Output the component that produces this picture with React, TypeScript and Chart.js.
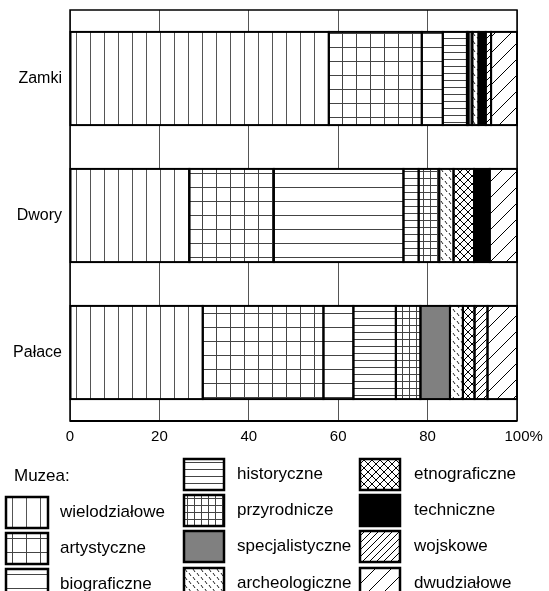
import React, { useEffect, useRef } from "react";
import { Chart, registerables } from "chart.js";

Chart.register(...registerables);

// ---------- data ----------
const categories = ["Zamki", "Dwory", "Pałace"];
const xTickValues = [0, 20, 40, 60, 80, 100];

const wielodzialowe = [57.9, 26.7, 29.7];
const artystyczne = [20.8, 18.9, 27.0];
const biograficzne = [4.7, 29.0, 6.7];
const historyczne = [5.4, 3.4, 9.5];
const przyrodnicze = [0.3, 4.6, 5.5];
const specjalistyczne = [0.9, 0, 6.6];
const archeologiczne = [1.4, 3.2, 2.9];
const etnograficzne = [0, 4.6, 2.6];
const techniczne = [1.6, 3.5, 0];
const wojskowe = [1.2, 0, 2.9];
const dwudzialowe = [5.8, 6.1, 6.6];

const seriesNames = [
  "wielodziałowe",
  "artystyczne",
  "biograficzne",
  "historyczne",
  "przyrodnicze",
  "specjalistyczne",
  "archeologiczne",
  "etnograficzne",
  "techniczne",
  "wojskowe",
  "dwudziałowe",
];
const seriesValues = [
  wielodzialowe,
  artystyczne,
  biograficzne,
  historyczne,
  przyrodnicze,
  specjalistyczne,
  archeologiczne,
  etnograficzne,
  techniczne,
  wojskowe,
  dwudzialowe,
];
const seriesKinds = [
  "vlines",
  "grid14",
  "hlines14",
  "hlines7",
  "grid7",
  "gray",
  "dashes",
  "cross",
  "black",
  "diag7",
  "diag16",
];

const legendTitle = "Muzea:";

// ---------- patterns ----------
const LINE = "#444";

function makeTile(w: number, h: number, draw: (c: CanvasRenderingContext2D) => void) {
  const cv = document.createElement("canvas");
  cv.width = w;
  cv.height = h;
  const c = cv.getContext("2d")!;
  c.fillStyle = "#fff";
  c.fillRect(0, 0, w, h);
  draw(c);
  return c.createPattern(cv, "repeat")!;
}

function makeFill(kind: string, ox = 0, oy = 0): CanvasPattern | string {
  let p: CanvasPattern | null = null;
  let shift = true;
  switch (kind) {
    case "gray":
      return "#808080";
    case "black":
      return "#000";
    case "vlines":
      p = makeTile(14, 14, (c) => {
        c.fillStyle = "#555";
        c.fillRect(6, 0, 1, 14);
      });
      break;
    case "grid14":
      p = makeTile(14, 14, (c) => {
        c.fillStyle = LINE;
        c.fillRect(6, 0, 1, 14);
        c.fillRect(0, 5, 14, 1);
      });
      break;
    case "grid7":
      p = makeTile(7, 7, (c) => {
        c.fillStyle = LINE;
        c.fillRect(3, 0, 1, 7);
        c.fillRect(0, 3, 7, 1);
      });
      break;
    case "hlines14":
      p = makeTile(14, 14, (c) => {
        c.fillStyle = LINE;
        c.fillRect(0, 5, 14, 1);
      });
      break;
    case "hlines7":
      p = makeTile(7, 7, (c) => {
        c.fillStyle = LINE;
        c.fillRect(0, 3, 7, 1);
      });
      break;
    case "dashes":
      shift = false;
      p = makeTile(8, 8, (c) => {
        c.strokeStyle = "#222";
        c.lineWidth = 1;
        c.beginPath();
        c.moveTo(1, 1);
        c.lineTo(3, 4);
        c.moveTo(5, 5);
        c.lineTo(7, 8);
        c.stroke();
      });
      break;
    case "cross":
      shift = false;
      p = makeTile(8, 8, (c) => {
        c.strokeStyle = "#000";
        c.lineWidth = 1;
        c.beginPath();
        c.moveTo(-1, -1);
        c.lineTo(9, 9);
        c.moveTo(-1, 9);
        c.lineTo(9, -1);
        c.stroke();
      });
      break;
    case "diag7":
    case "diag16": {
      shift = false;
      const s = kind === "diag7" ? 7 : 16;
      p = makeTile(s, s, (c) => {
        c.strokeStyle = "#000";
        c.lineWidth = 1;
        c.beginPath();
        c.moveTo(-1, s + 1);
        c.lineTo(s + 1, -1);
        c.moveTo(-2, 2);
        c.lineTo(2, -2);
        c.moveTo(s - 2, s + 2);
        c.lineTo(s + 2, s - 2);
        c.stroke();
      });
      break;
    }
  }
  if (p && shift && (ox || oy) && typeof DOMMatrix !== "undefined") {
    p.setTransform(new DOMMatrix().translate(ox, oy));
  }
  return p as CanvasPattern;
}

const FONT_FAMILY = 'Arial, "Liberation Sans", sans-serif';

// legend layout (columns of entries)
const legendColumns = [
  { boxX: 6, boxW: 42, textX: 60, items: [0, 1, 2], tops: [497, 533, 569] },
  { boxX: 184, boxW: 40, textX: 237, items: [3, 4, 5, 6], tops: [459, 495, 531, 568] },
  { boxX: 360, boxW: 40, textX: 414, items: [7, 8, 9, 10], tops: [459, 495, 531, 568] },
];

const overlayPlugin = {
  id: "overlay",
  afterDatasetsDraw(chart: any) {
    const ctx: CanvasRenderingContext2D = chart.ctx;
    ctx.save();
    ctx.strokeStyle = "#000";
    ctx.lineWidth = 2;
    chart.data.datasets.forEach((ds: any, i: number) => {
      const meta = chart.getDatasetMeta(i);
      meta.data.forEach((el: any, j: number) => {
        const v = ds.data[j];
        if (v == null) return;
        const { x, y, base, height } = el.getProps(["x", "y", "base", "height"], true);
        ctx.strokeRect(Math.min(x, base), y - height / 2, Math.abs(x - base), height);
      });
    });
    ctx.restore();
  },
  afterDraw(chart: any) {
    const ctx: CanvasRenderingContext2D = chart.ctx;
    const a = chart.chartArea;
    ctx.save();
    // frame
    ctx.strokeStyle = "#000";
    ctx.lineWidth = 1.5;
    ctx.strokeRect(a.left, a.top, a.right - a.left, a.bottom - a.top);
    ctx.lineWidth = 2;
    ctx.beginPath();
    ctx.moveTo(a.left, a.bottom);
    ctx.lineTo(a.right, a.bottom);
    ctx.stroke();

    // "%" after last tick label
    const xs = chart.scales.x;
    const items = xs.getLabelItems ? xs.getLabelItems(a) : [];
    if (items.length) {
      const last = items[items.length - 1];
      ctx.font = last.font.string;
      ctx.fillStyle = "#000";
      ctx.textBaseline = last.options.textBaseline;
      ctx.textAlign = "left";
      const [tx, ty] = last.options.translation;
      const w = ctx.measureText(String(last.label)).width;
      ctx.fillText("%", tx + w / 2, ty + last.textOffset);
    }

    // legend
    ctx.font = `17px ${FONT_FAMILY}`;
    ctx.textBaseline = "middle";
    ctx.textAlign = "left";
    ctx.fillStyle = "#000";
    ctx.fillText(legendTitle, 14, 476);
    const boxH = 31;
    legendColumns.forEach((col) => {
      col.items.forEach((idx, r) => {
        const top = col.tops[r];
        ctx.fillStyle = makeFill(seriesKinds[idx], col.boxX, top) as any;
        ctx.fillRect(col.boxX, top, col.boxW, boxH);
        ctx.strokeStyle = "#000";
        ctx.lineWidth = 2.5;
        ctx.strokeRect(col.boxX, top, col.boxW, boxH);
        ctx.fillStyle = "#000";
        ctx.fillText(seriesNames[idx], col.textX, top + boxH / 2);
      });
    });
    ctx.restore();
  },
};

export default function App() {
  const ref = useRef<HTMLCanvasElement | null>(null);

  useEffect(() => {
    if (!ref.current) return;
    const tickFont = { family: FONT_FAMILY, size: 15 };
    const catFont = { family: FONT_FAMILY, size: 16 };
    const chart = new Chart(ref.current, {
      type: "bar",
      data: {
        labels: categories,
        datasets: seriesNames.map((name, i) => ({
          label: name,
          data: seriesValues[i].map((v) => (v === 0 ? null : v)),
          backgroundColor: makeFill(seriesKinds[i]) as any,
          borderWidth: 0,
          barPercentage: 0.68,
          categoryPercentage: 1,
        })),
      },
      options: {
        indexAxis: "y",
        responsive: false,
        animation: false,
        events: [],
        layout: { padding: { left: 0, top: 10, right: 32, bottom: 140 } },
        plugins: {
          legend: { display: false },
          tooltip: { enabled: false },
        },
        scales: {
          x: {
            stacked: true,
            min: 0,
            max: 100,
            afterBuildTicks: (s: any) => {
              s.ticks = xTickValues.map((v) => ({ value: v }));
            },
            ticks: {
              font: tickFont,
              color: "#000",
              padding: 7,
              maxRotation: 0,
              autoSkip: false,
              callback: (v: any) => String(v),
            },
            grid: { color: "#555", lineWidth: 1, drawTicks: false },
            border: { display: false },
            afterFit: (s: any) => {
              s.height = 30;
            },
          },
          y: {
            stacked: true,
            ticks: { font: catFont, color: "#000", padding: 8 },
            grid: { display: false, drawTicks: false },
            border: { display: false },
            afterFit: (s: any) => {
              s.width = 70;
              s.paddingTop = 0;
              s.paddingBottom = 0;
            },
          },
        },
      },
      plugins: [overlayPlugin],
    } as any);
    return () => chart.destroy();
  }, []);

  return (
    <canvas
      ref={ref}
      width={549}
      height={591}
      style={{ position: "fixed", left: 0, top: 0, width: 549, height: 591, background: "#fff" }}
    />
  );
}
